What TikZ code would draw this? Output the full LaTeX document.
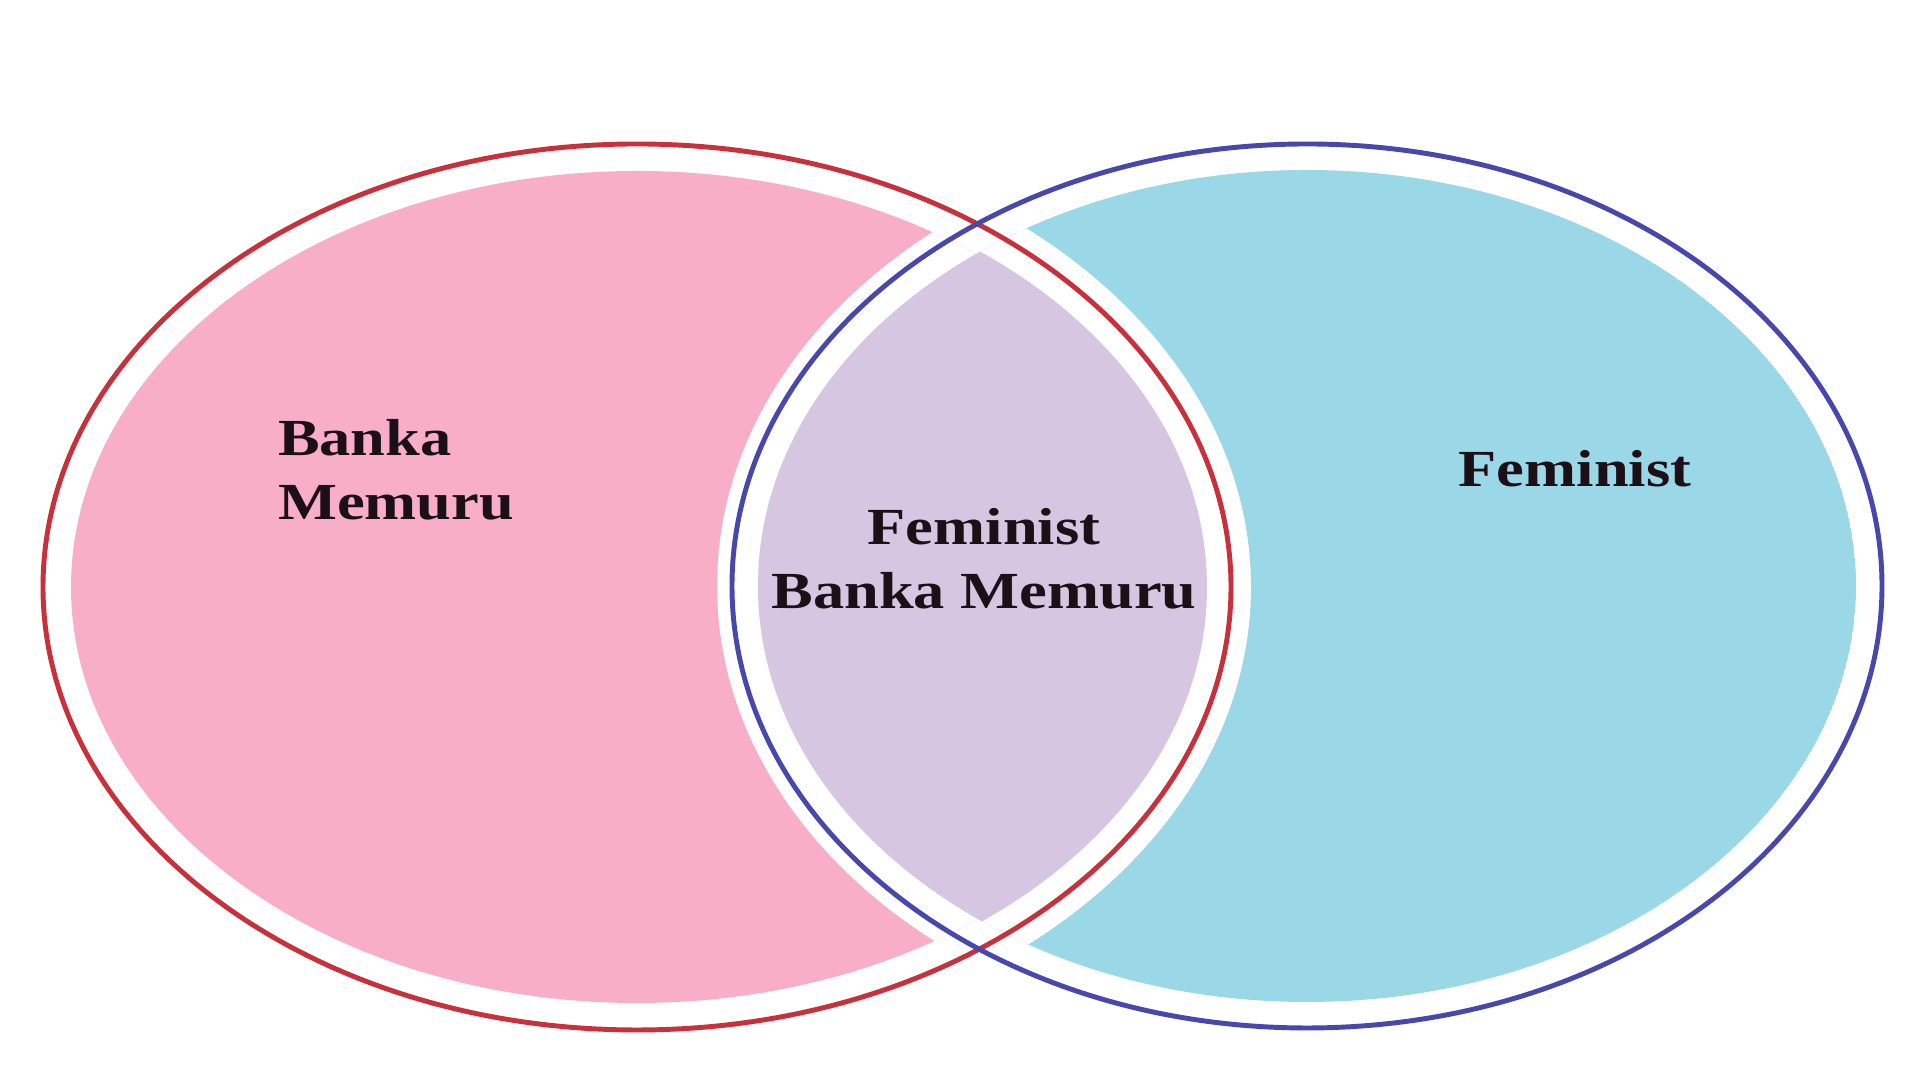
\documentclass[tikz,border=0pt]{standalone}
\usepackage{fontspec}
\usepackage{tikz}
\newfontfamily\vennfont[FakeStretch=1.2]{Liberation Serif}
\definecolor{vennred}{HTML}{C8313C}
\definecolor{vennblue}{HTML}{4848AC}
\definecolor{pinkfill}{HTML}{F9AEC8}
\definecolor{lilacfill}{HTML}{D6C6E1}
\definecolor{cyanfill}{HTML}{9AD8E8}
\definecolor{inkdark}{HTML}{1C1016}

\begin{document}
\begin{tikzpicture}[x=0.01cm,y=0.01cm,
  vennlabel/.style={text=inkdark, inner sep=0pt,
    font=\vennfont\bfseries\fontsize{14.8}{18.2}\selectfont}]
\useasboundingbox (0,0) rectangle (1920,1080);
\fill[white] (0,0) rectangle (1920,1080);
\coordinate (r) at (637,493);
\coordinate (b) at (1307,494);
% pink part
\begin{scope}
\clip (r) ellipse [x radius=566, y radius=416];
\fill[pinkfill, even odd rule] (r) ellipse [x radius=566, y radius=416]
  (b) ellipse [x radius=590, y radius=458];
\end{scope}
% overlap
\begin{scope}
\clip (r) ellipse [x radius=570, y radius=420];
\fill[lilacfill] (b) ellipse [x radius=549, y radius=416];
\end{scope}
% cyan part
\begin{scope}
\clip (b) ellipse [x radius=549, y radius=416];
\fill[cyanfill, even odd rule] (b) ellipse [x radius=549, y radius=416]
  (r) ellipse [x radius=614, y radius=464];
\end{scope}
% draws outlines
\begin{scope}[line width=1.4pt]
\draw[vennred] (r) ellipse [x radius=594, y radius=443];
\draw[vennblue] (b) ellipse [x radius=575, y radius=442];
\end{scope}
% labels
\node[vennlabel, align=left] (bankalbl) at (396,610) {Banka\\Memuru};
\node[vennlabel, align=center] (bothlbl) at (984,521) {Feminist\\Banka Memuru};
\node[vennlabel, anchor=base] (femlbl) at (1575,593) {Feminist};
\end{tikzpicture}
\end{document}
